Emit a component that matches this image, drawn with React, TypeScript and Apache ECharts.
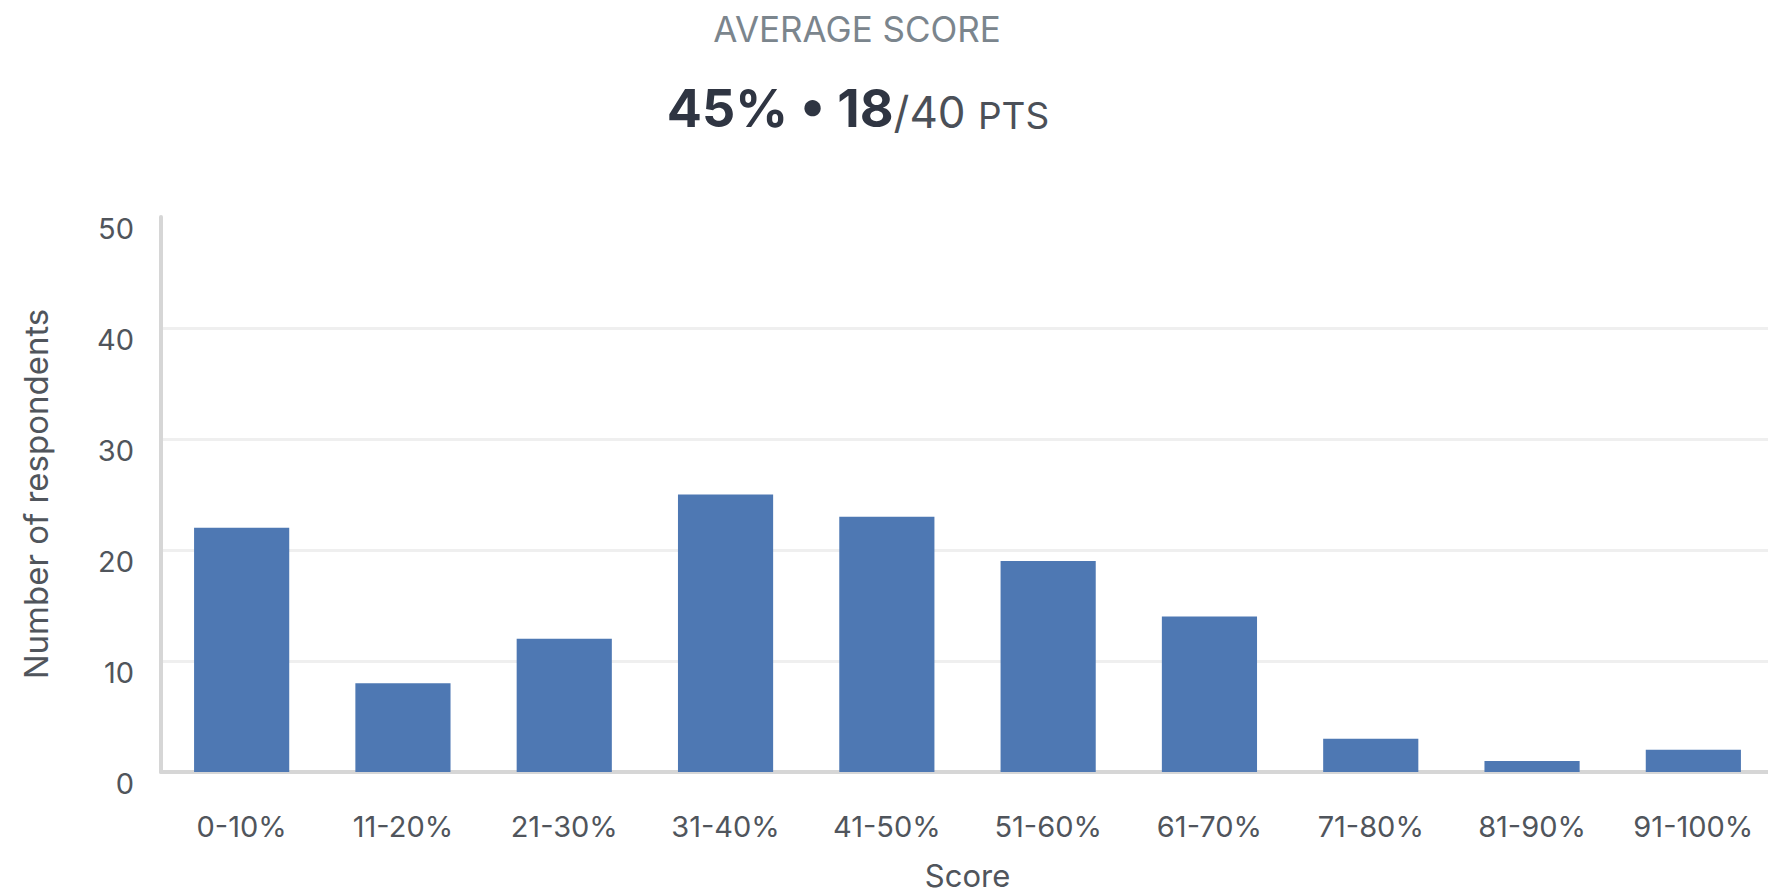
import React, { useEffect, useRef } from "react";
import * as echarts from "echarts";

const categories = ["0-10%", "11-20%", "21-30%", "31-40%", "41-50%", "51-60%", "61-70%", "71-80%", "81-90%", "91-100%"];
const respondents = [22, 8, 12, 25, 23, 19, 14, 3, 1, 2];
const yMin = 0;
const yMax = 50;
const yInterval = 10;

const headerLabel = "AVERAGE SCORE";
const averagePercent = "45%";
const averagePoints = "18";
const maxPoints = "40";
const pointsUnit = "PTS";

const xAxisName = "Score";
const yAxisName = "Number of respondents";

const FONT = "Inter, 'Noto Sans', sans-serif";
const LABEL_COLOR = "#50555c";

export default function App() {
  const ref = useRef<HTMLDivElement>(null);

  useEffect(() => {
    if (!ref.current) return;
    const chart = echarts.init(ref.current, null, { renderer: "svg" });
    chart.setOption({
      animation: false,
      textStyle: { fontFamily: FONT },
      grid: { left: 161, right: 0, top: 217, bottom: 119, containLabel: false },
      xAxis: {
        type: "category",
        data: categories,
        axisLine: { show: true, lineStyle: { color: "#d6d6d6", width: 4 } },
        axisTick: { show: false },
        axisLabel: { color: LABEL_COLOR, fontSize: 29, margin: 40, fontFamily: FONT },
        name: xAxisName,
        nameLocation: "middle",
        nameGap: 88,
        nameTextStyle: { color: LABEL_COLOR, fontSize: 31, fontFamily: FONT },
      },
      yAxis: {
        type: "value",
        min: yMin,
        max: yMax,
        interval: yInterval,
        axisLine: { show: true, lineStyle: { color: "#d6d6d6", width: 4 } },
        axisTick: { show: false },
        axisLabel: {
          color: LABEL_COLOR,
          fontSize: 29,
          margin: 27,
          verticalAlign: "top",
          lineHeight: 22,
          fontFamily: FONT,
        },
        splitLine: { show: true, showMaxLine: false, lineStyle: { color: "#efefef", width: 3 } },
      },
      series: [
        {
          type: "bar",
          data: respondents,
          barWidth: "59%",
          itemStyle: { color: "#4e78b3" },
        },
      ],
      graphic: [
        {
          type: "text",
          x: 857,
          y: 29,
          style: {
            text: headerLabel,
            fontSize: 35,
            fontFamily: FONT,
            fill: "#7b858d",
            align: "center",
            verticalAlign: "middle",
          },
        },
        {
          type: "text",
          x: 858,
          y: 108,
          style: {
            text: `{a|${averagePercent} • ${averagePoints}}{b|/${maxPoints} }{c|${pointsUnit}}`,
            align: "center",
            verticalAlign: "middle",
            fontFamily: FONT,
            rich: {
              a: { fontSize: 52, fontWeight: 700, fill: "#2f3542", fontFamily: FONT, verticalAlign: "bottom" },
              b: { fontSize: 44, fontWeight: 400, fill: "#4b5058", fontFamily: FONT, verticalAlign: "bottom" },
              c: { fontSize: 37, fontWeight: 400, fill: "#4b5058", fontFamily: FONT, verticalAlign: "bottom" },
            },
          },
        },
        {
          type: "text",
          x: 36,
          y: 494,
          rotation: Math.PI / 2,
          style: {
            text: yAxisName,
            fontSize: 33,
            fontFamily: FONT,
            fill: LABEL_COLOR,
            align: "center",
            verticalAlign: "middle",
          },
        },
      ],
    });
    return () => chart.dispose();
  }, []);

  return (
    <div style={{ position: "absolute", left: 0, top: 0, width: 1768, height: 896, overflow: "hidden", background: "#ffffff" }}>
      <div ref={ref} style={{ width: 1774, height: 896 }} />
    </div>
  );
}
